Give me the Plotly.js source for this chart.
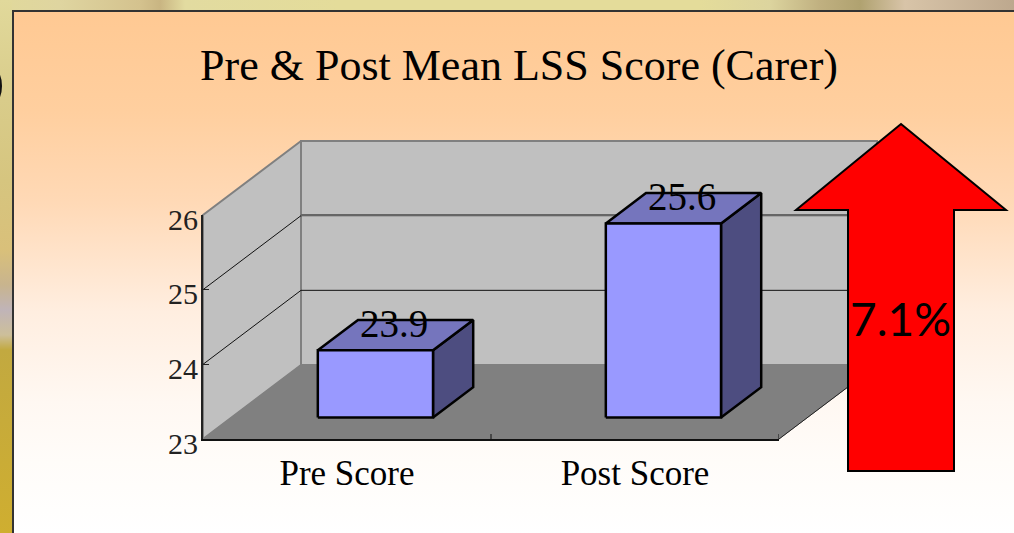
<!DOCTYPE html>
<html><head><meta charset="utf-8">
<script src="https://cdn.plot.ly/plotly-3.0.1.min.js"></script>
<style>
html,body{margin:0;padding:0;width:1014px;height:533px;overflow:hidden;background:#fff}
#top{position:absolute;left:0;top:0;width:1014px;height:11px;background:linear-gradient(90deg,#e1d99b 0,#dfd5a0 60px,#d4c28e 140px,#c9b582 160px,#e2dba0 185px,#e4dc9a 340px,#e4dc9a 700px,#dcd49e 770px,#c0b080 820px,#b0a270 860px,#d8c4a8 905px,#bda88e 1014px)}
#left{position:absolute;left:0;top:0;width:12px;height:533px;background:linear-gradient(180deg,#e1d99b 0,#d9cc8a 100px,#d6c57f 180px,#d9c07a 250px,#c8b48e 285px,#c0b4b8 310px,#cdbf9a 335px,#c2a940 350px,#cfae30 533px)}
#arc{position:absolute;left:-12px;top:70px;width:14px;height:32px;border:2px solid #111;border-radius:50%;box-sizing:border-box}
#pane{position:absolute;left:12px;top:10px;width:1002px;height:523px;box-sizing:border-box;border-left:2px solid #333;border-top:2px solid #333;background:linear-gradient(180deg,#ffc993 0,#ffcf9f 100px,#ffd9b6 190px,#ffeee0 300px,#fff8f2 390px,#fffcf9 450px,#ffffff 523px)}
#chart{position:absolute;left:0;top:0;width:1014px;height:533px}
</style></head><body>
<div id="top"></div><div id="left"></div><div id="arc"></div><div id="pane"></div><div id="chart"></div>
<script>
const categories = ['Pre Score', 'Post Score'];
const scores = [23.9, 25.6];
const yTicks = [23, 24, 25, 26];
const gridValues = [24, 25];
const changeLabel = '7.1%';
const chartTitle = 'Pre & Post Mean LSS Score (Carer)';

const W = 1014, H = 533, L = 203, R = 779, T = 215, B = 439;
const xMin = -0.5, xMax = 1.5, yMin = 23, yMax = 26;
const ux = (R - L) / (xMax - xMin), uy = (B - T) / (yMax - yMin);
// oblique projection: depth 0 = front plane, depth 1 = back wall
const dx = 98 / ux, dy = 74 / uy;
const P = (x, y, d) => [x + d * dx, y + d * dy];
const barFront = 0.29, barBack = 0.70, barHalf = 0.2;

function poly(points, fill, lineColor, lineWidth) {
  return {type: 'scatter', mode: 'lines', x: points.map(p => p[0]), y: points.map(p => p[1]),
    fill: 'toself', fillcolor: fill, hoverinfo: 'skip', showlegend: false,
    line: {color: lineColor, width: lineWidth, shape: 'linear'}};
}
function seg(a, b, color, width) {
  return {type: 'scatter', mode: 'lines', x: [a[0], b[0]], y: [a[1], b[1]],
    hoverinfo: 'skip', showlegend: false, line: {color: color, width: width}};
}
const close = a => a.concat([a[0]]);
const traces = [];
// back wall, left wall, floor
traces.push(poly(close([P(xMin, yMin, 1), P(xMax, yMin, 1), P(xMax, yMax, 1), P(xMin, yMax, 1)]), '#c0c0c0', '#808080', 2));
traces.push(poly(close([P(xMin, yMin, 0), P(xMin, yMin, 1), P(xMin, yMax, 1), P(xMin, yMax, 0)]), '#c0c0c0', '#808080', 2));
traces.push(poly(close([P(xMin, yMin, 0), P(xMax, yMin, 0), P(xMax, yMin, 1), P(xMin, yMin, 1)]), '#808080', '#808080', 1));
traces.push(seg(P(xMax, yMin, 0), P(xMax, yMin, 1), '#222', 1));
// grid lines on the walls
gridValues.forEach(v => {
  traces.push(seg(P(xMin, v, 0), P(xMin, v, 1), '#111', 1));
  traces.push(seg(P(xMin, v, 1), P(xMax, v, 1), '#111', 1));
});
traces.push(seg([xMin + dx, yMax], [xMax + dx, yMax], '#666', 2));
// boxes
scores.forEach((v, i) => {
  const l = i - barHalf, r = i + barHalf;
  traces.push(poly(close([P(r, yMin, barFront), P(r, yMin, barBack), P(r, v, barBack), P(r, v, barFront)]), '#4d4d80', '#000', 2.5));
  traces.push(poly(close([P(l, v, barFront), P(r, v, barFront), P(r, v, barBack), P(l, v, barBack)]), '#7575bd', '#000', 2.5));
  traces.push(poly(close([P(l, yMin, barFront), P(r, yMin, barFront), P(r, v, barFront), P(l, v, barFront)]), '#9999ff', '#000', 2.5));
});
// value labels
traces.push({type: 'scatter', mode: 'text', hoverinfo: 'skip', showlegend: false,
  x: scores.map((v, i) => P(i, v, 0.48)[0]),
  y: scores.map(v => P(0, v, 0.48)[1] + 0.12),
  text: scores.map(v => v.toFixed(1)), textposition: 'middle center',
  textfont: {family: 'Liberation Serif', size: 39, color: '#000'}});
// x-axis boundary ticks, on the axes that carry the labelled scales
[0.5, 1.5].forEach(x => traces.push(Object.assign(seg([x, yMin], [x, yMin + 5 / uy], '#111', 1), {xaxis: 'x2', yaxis: 'y2'})));

const px = x => x / W, py = y => 1 - y / H;
const arrow = [[901, 124], [1006, 210], [954, 210], [954, 471], [848, 471], [848, 210], [796, 210]];
const arrowPath = arrow.map((p, i) => (i ? 'L' : 'M') + px(p[0]) + ',' + py(p[1])).join(' ') + ' Z';

const layout = {
  width: W, height: H, margin: {l: 0, r: 0, t: 0, b: 0, pad: 0},
  paper_bgcolor: 'rgba(0,0,0,0)', plot_bgcolor: 'rgba(0,0,0,0)', showlegend: false,
  title: {text: chartTitle, x: 519 / W, xanchor: 'center', y: 1 - 65 / H, yanchor: 'middle',
    font: {family: 'Liberation Serif', size: 44, color: '#000'}},
  // page-wide scales sharing the data units, so the depth can run past the front plane
  xaxis: {visible: false, domain: [0, 1], range: [xMin - L / ux, xMax + (W - R) / ux]},
  yaxis: {visible: false, domain: [0, 1], range: [yMin - (H - B) / uy, yMax + T / uy]},
  xaxis2: {anchor: 'y2', domain: [L / W, R / W], range: [xMin, xMax], tickmode: 'array', tickvals: [0, 1], ticktext: categories, ticks: '', showgrid: false, zeroline: false,
    showline: true, linecolor: '#111', linewidth: 2, ticklabelstandoff: 2,
    tickfont: {family: 'Liberation Serif', size: 35, color: '#000'}},
  yaxis2: {anchor: 'x2', domain: [1 - B / H, 1 - T / H], range: [yMin, yMax], tickmode: 'array', tickvals: yTicks, ticks: 'inside', ticklen: 6, tickcolor: '#222', tickwidth: 1, showgrid: false, zeroline: false,
    showline: true, linecolor: '#222', linewidth: 2, ticklabelstandoff: -3, ticklabelshift: 4,
    tickfont: {family: 'Liberation Serif', size: 30, color: '#222'}},
  shapes: [{type: 'path', xref: 'paper', yref: 'paper', path: arrowPath, fillcolor: '#ff0000', line: {color: '#000', width: 2}, layer: 'above'}],
  annotations: [{xref: 'paper', yref: 'paper', x: px(900), y: py(318), xanchor: 'center', yanchor: 'middle', showarrow: false, text: changeLabel,
    font: {family: 'Lato', size: 46, color: '#000'}}]
};
Plotly.newPlot('chart', traces, layout, {displayModeBar: false, responsive: false});
</script></body></html>
